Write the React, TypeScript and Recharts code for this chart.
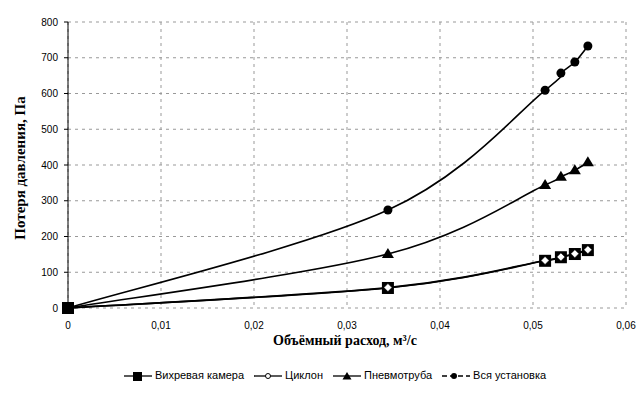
import React from 'react';
import { LineChart, Line, XAxis, YAxis, CartesianGrid } from 'recharts';

const flow = [0, 0.0344, 0.0513, 0.053, 0.0545, 0.0559];
const vortex = [0, 56, 132, 142, 151, 162];
const cyclone = [0, 57, 133, 143, 152, 163];
const pneumo = [0, 151, 344, 367, 385, 408];
const total = [0, 274, 609, 657, 688, 733];

const xTicks = [0, 0.01, 0.02, 0.03, 0.04, 0.05, 0.06];
const yTicks = [0, 100, 200, 300, 400, 500, 600, 700, 800];

const seriesNames = ['Вихревая камера', 'Циклон', 'Пневмотруба', 'Вся установка'];

const data = flow.map((x, i) => ({
  x,
  vortex: vortex[i],
  cyclone: cyclone[i],
  pneumo: pneumo[i],
  total: total[i],
}));

const fmt = (v: number) => (v === 0 ? '0' : v.toFixed(2).replace('.', ','));

// Catmull-Rom style smoothing (like spreadsheet "smoothed line")
const smoothCurve: any = (context: any) => {
  let pts: number[][] = [];
  return {
    areaStart() {},
    areaEnd() {},
    lineStart() {
      pts = [];
    },
    point(x: number, y: number) {
      pts.push([+x, +y]);
    },
    lineEnd() {
      const n = pts.length;
      if (!n) return;
      context.moveTo(pts[0][0], pts[0][1]);
      for (let i = 0; i < n - 1; i++) {
        const p0 = pts[i - 1] || pts[i];
        const p1 = pts[i];
        const p2 = pts[i + 1];
        const p3 = pts[i + 2] || p2;
        context.bezierCurveTo(
          p1[0] + (p2[0] - p0[0]) / 6,
          p1[1] + (p2[1] - p0[1]) / 6,
          p2[0] - (p3[0] - p1[0]) / 6,
          p2[1] - (p3[1] - p1[1]) / 6,
          p2[0],
          p2[1]
        );
      }
    },
  };
};

const SquareDot = (p: any) => (
  <rect key={`s${p.index}`} x={p.cx - 6} y={p.cy - 6} width={12} height={12} fill="#000" />
);
const DiamondDot = (p: any) => (
  <path
    key={`d${p.index}`}
    d={`M${p.cx},${p.cy - 4} L${p.cx + 4},${p.cy} L${p.cx},${p.cy + 4} L${p.cx - 4},${p.cy} Z`}
    fill="#fff"
    stroke="#000"
    strokeWidth={0.5}
  />
);
const TriDot = (p: any) => (
  <path
    key={`t${p.index}`}
    d={`M${p.cx},${p.cy - 6} L${p.cx + 6},${p.cy + 4} L${p.cx - 6},${p.cy + 4} Z`}
    fill="#000"
  />
);
const CircleDot = (p: any) => (
  <circle key={`c${p.index}`} cx={p.cx} cy={p.cy} r={4.5} fill="#000" />
);

const LegendIcon = ({ kind }: { kind: number }) => (
  <svg width={28} height={10} style={{ verticalAlign: 'middle', marginRight: 3 }}>
    <line x1={0} y1={5} x2={28} y2={5} stroke="#000" strokeWidth={1.3} strokeDasharray={kind === 3 ? '5 3' : undefined} />
    {kind === 0 && <rect x={9} y={1} width={9} height={9} fill="#000" />}
    {kind === 1 && <circle cx={14} cy={5} r={2.5} fill="#fff" stroke="#000" strokeWidth={1} />}
    {kind === 2 && <path d="M14,1 L18.5,8.5 L9.5,8.5 Z" fill="#000" />}
    {kind === 3 && <circle cx={12} cy={5} r={3} fill="#000" />}
  </svg>
);

export default function App() {
  return (
    <div style={{ position: 'absolute', left: 0, top: 0, width: 641, height: 407, background: '#fff' }}>
      <LineChart
        width={641}
        height={407}
        data={data}
        margin={{ top: 22, right: 15, bottom: 69, left: 0 }}
      >
        <CartesianGrid stroke="#999" strokeDasharray="3 4" />
        <XAxis
          type="number"
          dataKey="x"
          domain={[0, 0.06]}
          ticks={xTicks}
          tickFormatter={fmt}
          tickLine={false}
          axisLine={false}
          tickMargin={8}
          height={30}
          tick={{ fontSize: 10, fill: '#000', fontFamily: 'Liberation Sans, Arial, sans-serif' }}
        />
        <YAxis
          type="number"
          domain={[0, 800]}
          ticks={yTicks}
          width={68}
          tickSize={4}
          tickMargin={6}
          stroke="#000"
          tick={{ fontSize: 10, fill: '#000', fontFamily: 'Liberation Sans, Arial, sans-serif' }}
        />
        <Line type={smoothCurve} dataKey="vortex" stroke="#000" strokeWidth={1.6} dot={SquareDot} isAnimationActive={false} />
        <Line type={smoothCurve} dataKey="cyclone" stroke="#000" strokeWidth={1.6} dot={DiamondDot} isAnimationActive={false} />
        <Line type={smoothCurve} dataKey="pneumo" stroke="#000" strokeWidth={1.6} dot={TriDot} isAnimationActive={false} />
        <Line type={smoothCurve} dataKey="total" stroke="#000" strokeWidth={1.6} dot={CircleDot} isAnimationActive={false} />
      </LineChart>
      <div
        style={{
          position: 'absolute',
          left: 20,
          top: 168,
          transform: 'translate(-50%, -50%) rotate(-90deg)',
          fontFamily: 'Liberation Serif, Times New Roman, serif',
          fontWeight: 'bold',
          fontSize: 15,
          whiteSpace: 'nowrap',
        }}
      >
        Потеря давления, Па
      </div>
      <div
        style={{
          position: 'absolute',
          left: 0,
          width: 690,
          top: 334,
          lineHeight: '14px',
          textAlign: 'center',
          fontFamily: 'Liberation Serif, Times New Roman, serif',
          fontWeight: 'bold',
          fontSize: 14,
        }}
      >
        Объёмный расход, м³/с
      </div>
      <div
        style={{
          position: 'absolute',
          left: 0,
          width: 680,
          top: 369,
          textAlign: 'center',
          fontFamily: 'Liberation Sans, Arial, sans-serif',
          fontSize: 11,
          whiteSpace: 'nowrap',
        }}
      >
        {seriesNames.map((n, i) => (
          <span key={n} style={{ marginRight: 10 }}>
            <LegendIcon kind={i} />
            {n}
          </span>
        ))}
      </div>
    </div>
  );
}
